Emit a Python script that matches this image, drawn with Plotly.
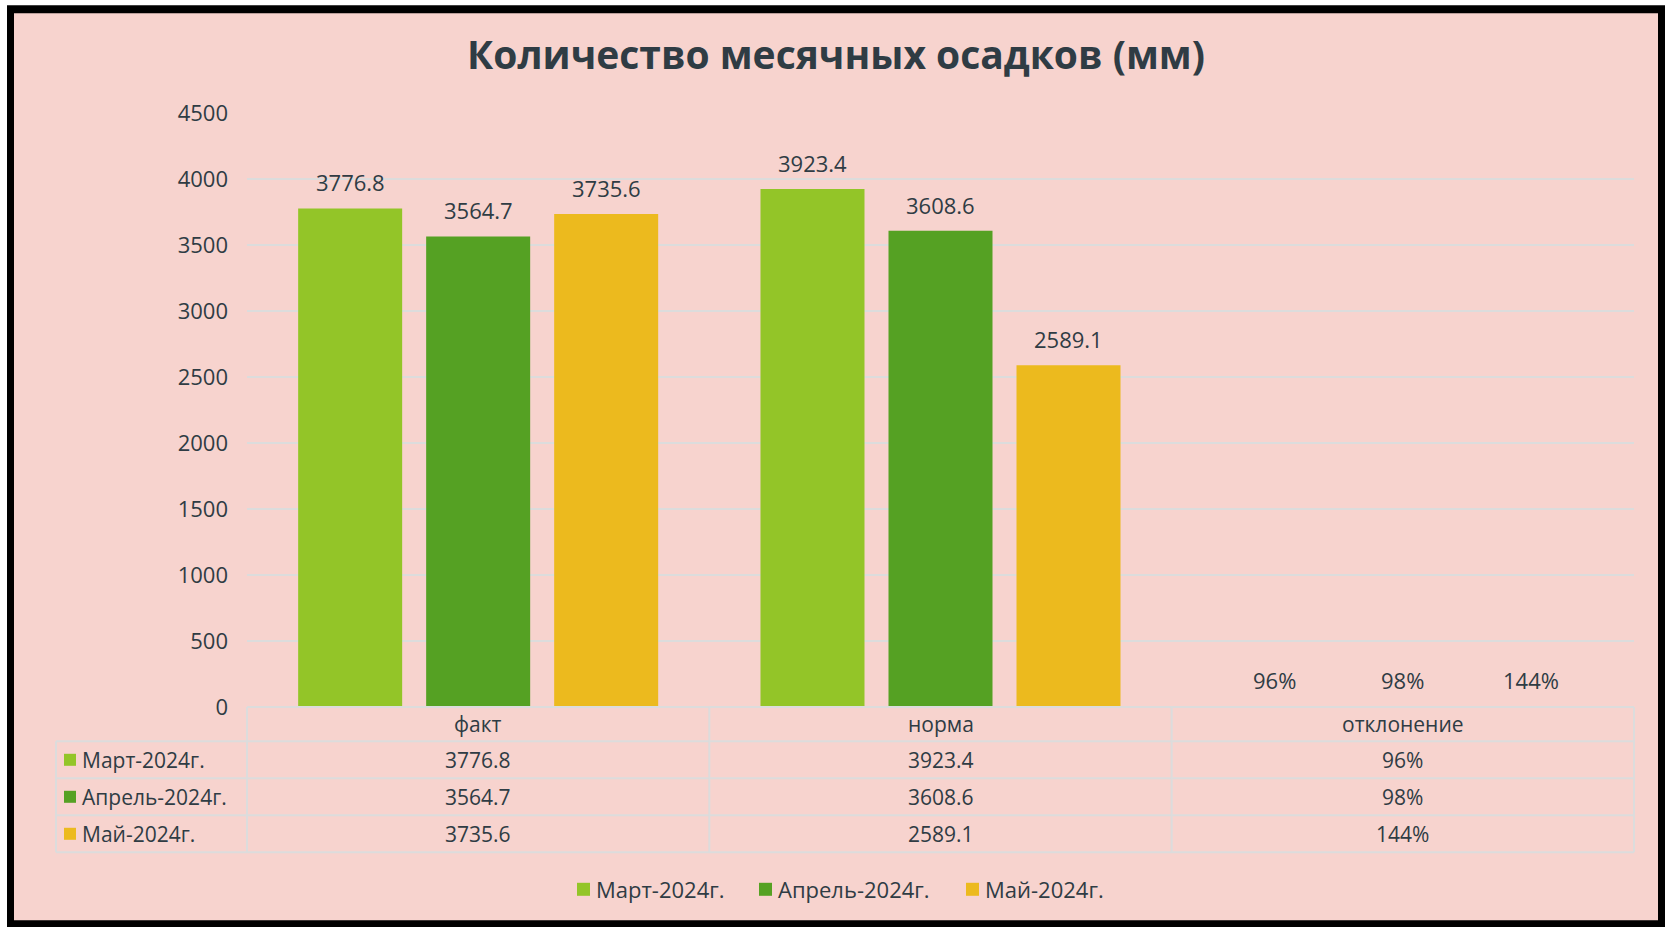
import plotly.graph_objects as go

# ---- data ----
categories = ["факт", "норма", "отклонение"]
series_names = ["Март-2024г.", "Апрель-2024г.", "Май-2024г."]
mart = [3776.8, 3923.4, 0.96]
aprel = [3564.7, 3608.6, 0.98]
mai = [3735.6, 2589.1, 1.44]
y_ticks = [0, 500, 1000, 1500, 2000, 2500, 3000, 3500, 4000, 4500]

series_values = [mart, aprel, mai]
colors = ["#93C528", "#55A123", "#ECBA1E"]

def fmt(v, cat_index):
    return f"{v:.0%}" if cat_index == 2 else f"{v:.1f}"

# ---- geometry (pixels) ----
W, H = 1665, 927
L, R, T, B = 247, 1634, 112.7, 706.7
def px(x):
    return (x - L) / (R - L)
def py(y):
    return (B - y) / (B - T)

FONT = "Open Sans"
TXT = "#2F3C44"
GRID = "#DCDCDC"

fig = go.Figure()
for name, vals, col in zip(series_names, series_values, colors):
    fig.add_trace(go.Bar(x=categories, y=vals, name=name, marker=dict(color=col, line=dict(width=0)),
                         showlegend=False))

shapes = []
# frame
shapes.append(dict(type="rect", xref="paper", yref="paper", x0=px(7), x1=px(1665), y0=py(927), y1=py(5),
                   fillcolor="black", line=dict(width=0), layer="below"))
shapes.append(dict(type="rect", xref="paper", yref="paper", x0=px(14), x1=px(1658), y0=py(920), y1=py(13),
                   fillcolor="#F7D3CE", line=dict(width=0), layer="below"))

# table lines
row_lines = [741, 778, 815, 852]
line_style = dict(color=GRID, width=2)
shapes.append(dict(type="line", xref="paper", yref="paper", x0=px(L), x1=px(R), y0=py(B), y1=py(B), line=line_style))
for yl in row_lines:
    shapes.append(dict(type="line", xref="paper", yref="paper", x0=px(56), x1=px(R), y0=py(yl), y1=py(yl), line=line_style))
shapes.append(dict(type="line", xref="paper", yref="paper", x0=px(56), x1=px(56), y0=py(741), y1=py(852), line=line_style))
cat_w = (R - L) / len(categories)
for i in range(len(categories) + 1):
    xl = L + i * cat_w
    shapes.append(dict(type="line", xref="paper", yref="paper", x0=px(xl), x1=px(xl), y0=py(B), y1=py(852), line=line_style))

annotations = []
# header
for i, c in enumerate(categories):
    annotations.append(dict(x=px(L + (i + 0.5) * cat_w), y=py(723.5), xref="paper", yref="paper",
                            text=c, showarrow=False, font=dict(family=FONT, size=21, color=TXT),
                            xanchor="center", yanchor="middle"))
row_centers = [759.5, 796.5, 833.5]
for r, (name, vals, col) in enumerate(zip(series_names, series_values, colors)):
    yc = row_centers[r]
    shapes.append(dict(type="rect", xref="paper", yref="paper", x0=px(64), x1=px(76), y0=py(yc + 6), y1=py(yc - 6),
                       fillcolor=col, line=dict(width=0)))
    annotations.append(dict(x=px(80), y=py(yc), xref="paper", yref="paper", text=name, showarrow=False,
                            font=dict(family=FONT, size=21, color=TXT), xanchor="left", yanchor="middle"))
    for i, v in enumerate(vals):
        annotations.append(dict(x=px(L + (i + 0.5) * cat_w), y=py(yc), xref="paper", yref="paper",
                                text=fmt(v, i), showarrow=False, font=dict(family=FONT, size=21, color=TXT),
                                xanchor="center", yanchor="middle"))

# bottom legend (keys + labels)
legend_marker_x = [577, 759, 966]
legend_y = 889
for name, col, mx in zip(series_names, colors, legend_marker_x):
    shapes.append(dict(type="rect", xref="paper", yref="paper", x0=px(mx), x1=px(mx + 13),
                       y0=py(legend_y + 6.5), y1=py(legend_y - 6.5), fillcolor=col, line=dict(width=0)))
    annotations.append(dict(x=px(mx + 17), y=py(legend_y), xref="paper", yref="paper", text=name, showarrow=False,
                            font=dict(family=FONT, size=22, color=TXT), xanchor="left", yanchor="middle"))

# data labels above bars
offsets = [-128, 0, 128]
for s, vals in enumerate(series_values):
    for i, v in enumerate(vals):
        annotations.append(dict(x=categories[i], y=v, xref="x", yref="y", text=fmt(v, i), showarrow=False,
                                xshift=offsets[s], yshift=(27 if i == 2 else 26),
                                font=dict(family=FONT, size=22, color=TXT), xanchor="center", yanchor="middle"))

fig.update_layout(
    width=W, height=H,
    margin=dict(l=L, r=W - R, t=T, b=H - B, pad=0),
    paper_bgcolor="white",
    plot_bgcolor="rgba(0,0,0,0)",
    barmode="group",
    bargap=0.1694,
    bargroupgap=0.1875,
    title=dict(text="<b>Количество месячных осадков (мм)</b>", x=836 / W, xref="container", xanchor="center",
               y=1 - 55 / H, yref="container", yanchor="middle",
               font=dict(family=FONT, size=39, color="#2F3C44")),
    xaxis=dict(range=[-0.5, 2.5], showticklabels=False, showgrid=False, zeroline=False, showline=False, fixedrange=True),
    yaxis=dict(range=[0, 4500], tickvals=y_ticks, showgrid=True, gridcolor=GRID, gridwidth=2, zeroline=False,
               showline=False, tickfont=dict(family=FONT, size=22, color=TXT), ticks="", ticklabelstandoff=18),
    showlegend=False,
    shapes=shapes,
    annotations=annotations,
)

fig.write_html("out.html")
